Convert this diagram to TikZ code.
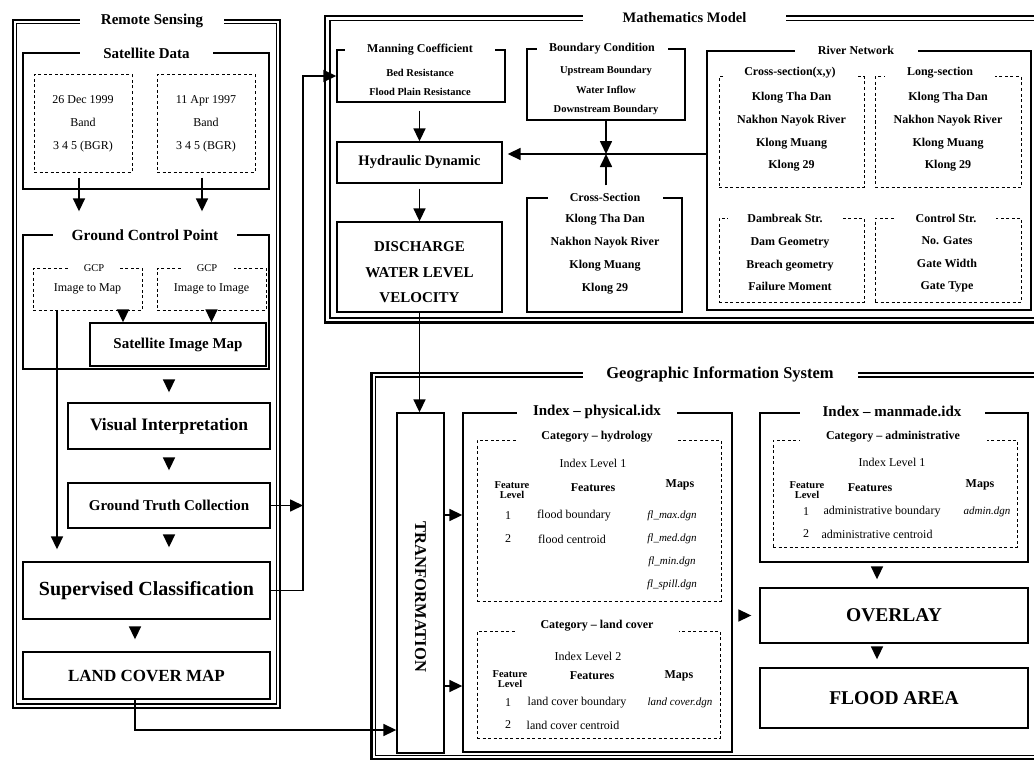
\documentclass[tikz,border=0pt]{standalone}
\usepackage{fontspec}
\setmainfont{Liberation Serif}
\usetikzlibrary{arrows.meta}
\newcommand{\fsz}[2]{\fontsize{#1}{#2}\selectfont}
\newcommand{\rbox}[7][box]{\node[#1,minimum width={(#5-#3)*1pt},minimum height={(#6-#4)*1pt}] (#2) at ({(#3+#5)/2},{(#4+#6)/2}) {#7};}
\tikzset{
 box/.style={draw,line width=1.35pt,inner sep=0pt,align=center,font=\bfseries},
 dbox/.style={draw,line width=1pt,dash pattern=on 3pt off 2.5pt,inner sep=0pt,align=center},
 ttl/.style={fill=white,inner xsep=0pt,inner ysep=1.5pt,align=center},
 txt/.style={inner sep=0pt,align=center},
 arr/.style={line width=1.7pt,-{Triangle[width=12pt,length=13pt]}},
 outerf/.style={line width=2.3pt},
 innerf/.style={line width=1.1pt},
}
\begin{document}
\begin{tikzpicture}[x=1pt,y=-1pt]
\useasboundingbox (0,0) rectangle (1034,760);
\clip (0,0) rectangle (1034,760);
\fill[white] (0,0) rectangle (1034,760);
% ---------------- frames
\draw[outerf] (13,20) rectangle (280,708);
\draw[innerf] (16.5,23.5) rectangle (276.5,704);
\draw[outerf] (325,16) rectangle (1050,322.5);
\draw[innerf] (330,20.5) rectangle (1050,318);
\draw[outerf] (371.5,373) rectangle (1050,759.5);
\draw[innerf] (375.5,377) rectangle (1050,755.5);
\node[ttl,minimum width=144pt,font=\bfseries\fsz{15}{17}] (rsT) at (152,21) {Remote Sensing};
\node[ttl,minimum width=203pt,font=\bfseries\fsz{14.5}{17}] (mmT) at (684.5,18) {Mathematics Model};
\node[ttl,minimum width=275pt,font=\bfseries\fsz{16.5}{18}] (gisT) at (720,375) {Geographic Information System};
% ---------------- Remote sensing
\rbox{sat}{23}{53}{269}{189}{}
\node[ttl,minimum width=133pt,font=\bfseries\fsz{15}{17}] (satT) at (146.5,53) {Satellite Data};
\rbox[dbox,font=\fsz{12}{23}]{d1}{34}{75}{132}{172}{26 Dec 1999\\Band\\3 4 5 (BGR)}
\rbox[dbox,font=\fsz{12}{23}]{d2}{157}{75}{255}{172}{11 Apr 1997\\Band\\3 4 5 (BGR)}
\rbox{gcp}{23}{235}{269}{369}{}
\node[ttl,minimum width=184pt,font=\bfseries\fsz{15.5}{17}] (gcpT) at (145,235) {Ground Control Point};
\rbox[dbox,font=\fsz{12}{14}]{gcpL}{33}{268}{142}{310}{Image to Map}
\rbox[dbox,font=\fsz{12}{14}]{gcpR}{157}{268}{266}{310}{Image to Image}
\node[ttl,minimum width=52pt,font=\fsz{10.5}{12}] (gcpLT) at (94,268) {GCP};
\node[ttl,minimum width=53pt,font=\fsz{10.5}{12}] (gcpRT) at (207,268) {GCP};
\rbox[box,font=\bfseries\fsz{15}{17}]{sim}{90}{323}{266}{366}{Satellite Image Map}
\rbox[box,font=\bfseries\fsz{17.5}{19}]{vi}{68}{403}{270}{449}{Visual Interpretation}
\rbox[box,font=\bfseries\fsz{15}{17}]{gtc}{68}{483}{270}{528}{Ground Truth Collection}
\rbox[box,font=\bfseries\fsz{20}{22}]{sc}{23}{562}{270}{619}{Supervised Classification}
\rbox[box,font=\bfseries\fsz{17}{19}]{lcm}{23}{652}{270}{699}{LAND COVER MAP}
% arrows RS
\draw[arr,shorten <=5pt,shorten >=23pt] ([xshift=-4pt]d1.south) coordinate (a1) -- (a1 |- gcp.north);
\draw[arr,shorten <=5pt,shorten >=23pt] ([xshift=-4pt]d2.south) coordinate (a2) -- (a2 |- gcp.north);
\draw[arr] ([xshift=35.5pt]gcpL.south) coordinate (a3) -- (a3 |- sim.north);
\draw[arr] (gcpR.south) -- (gcpR.south |- sim.north);
\draw[arr,shorten >=12pt] ([xshift=-30.5pt]gcpL.south) coordinate (a4) -- (a4 |- sc.north);
\draw[arr,shorten <=14pt,shorten >=10pt] (vi.north |- sim.south) -- (vi.north);
\draw[arr,shorten <=9pt,shorten >=12pt] (vi.south) -- (vi.south |- gtc.north);
\draw[arr,shorten <=7pt,shorten >=14pt] (gtc.south) -- (gtc.south |- sc.north);
\draw[arr,shorten <=8pt,shorten >=12pt] ([xshift=-11.5pt]sc.south) coordinate (a5) -- (a5 |- lcm.north);
% ---------------- Mathematics model
\rbox{man}{337}{50}{505}{102}{}
\node[ttl,minimum width=150pt,font=\bfseries\fsz{12}{14}] (manT) at (420,50) {Manning Coefficient};
\node[txt,font=\bfseries\fsz{10.5}{19}] (manX) at (420,82.5) {Bed Resistance\\Flood Plain Resistance};
\rbox[box,font=\bfseries\fsz{14.5}{17}]{hd}{337}{142}{502}{183}{Hydraulic Dynamic}
\rbox{dis}{337}{222}{502}{312}{}
\node[txt,font=\bfseries\fsz{15}{25.5}] (disX) at (419.5,272.5) {DISCHARGE\\WATER LEVEL\\VELOCITY};
\rbox{bc}{527}{49}{685}{120}{}
\node[ttl,minimum width=131pt,font=\bfseries\fsz{12}{14}] (bcT) at (602,49) {Boundary Condition};
\node[txt,font=\bfseries\fsz{10.5}{19.5}] (bcX) at (606,90.5) {Upstream Boundary\\Water Inflow\\Downstream Boundary};
\rbox{cs}{527}{198}{682}{312}{}
\node[txt,font=\bfseries\fsz{12}{23}] (csX) at (605,254.5) {Klong Tha Dan\\Nakhon Nayok River\\Klong Muang\\Klong 29};
\rbox{rn}{707}{51}{1031}{310}{}
\node[ttl,minimum width=123pt,font=\bfseries\fsz{12}{14}] (rnT) at (856,50) {River Network};
\rbox[dbox,font=\bfseries\fsz{12}{22.7}]{cxy}{719}{77}{864}{187}{Klong Tha Dan\\Nakhon Nayok River\\Klong Muang\\Klong 29}
\rbox[dbox,font=\bfseries\fsz{12}{22.7}]{lsec}{875}{77}{1021}{187}{Klong Tha Dan\\Nakhon Nayok River\\Klong Muang\\Klong 29}
\rbox[dbox]{dam}{719}{218}{864}{302}{}
\rbox[dbox]{ctl}{875}{218}{1021}{302}{}
\node[txt,font=\bfseries\fsz{12}{22.5}] (damX) at (790,264.5) {Dam Geometry\\Breach geometry\\Failure Moment};
\node[txt,font=\bfseries\fsz{12}{22.5}] (ctlX) at (947,264.5) {No. Gates\\Gate Width\\Gate Type};
% arrows MM
\coordinate (jn) at (607,154);
\draw[arr,shorten <=8pt] (hd.north |- man.south) -- (hd.north);
\draw[arr,shorten <=5pt] (hd.south) -- (hd.south |- dis.north);
\draw[arr] (bc.south) -- (bc.south |- jn);
\draw[arr,shorten <=12pt] (bc.south |- cs.north) -- (bc.south |- jn);
\draw[arr,shorten >=5pt] (rn.west |- jn) -- (hd.east |- jn);
\node[ttl,minimum width=115pt,font=\bfseries\fsz{12}{14}] (csT) at (605,197) {Cross-Section};
\node[ttl,minimum width=130pt,font=\bfseries\fsz{12}{14}] (cxyT) at (790,73) {Cross-section(x,y)};
\node[ttl,minimum width=110pt,font=\bfseries\fsz{12}{14}] (lsecT) at (940,73) {Long-section};
\node[ttl,minimum width=115pt,font=\bfseries\fsz{12}{14}] (damT) at (785,218) {Dambreak Str.};
\node[ttl,minimum width=100pt,font=\bfseries\fsz{12}{14}] (ctlT) at (946,218) {Control Str.};
% ---------------- GIS
\rbox{trans}{397}{413}{444}{753}{}
\node[txt,rotate=-90,font=\bfseries\fsz{16.5}{18}] (transX) at (420.5,597) {TRANFORMATION};
\rbox{phys}{463}{413}{732}{752}{}
\node[ttl,minimum width=160pt,font=\bfseries\fsz{15}{17}] (physT) at (597,412) {Index -- physical.idx};
\rbox[dbox]{hyd}{477}{440}{721}{601}{}
\node[ttl,minimum width=161pt,font=\bfseries\fsz{12}{14}] (hydT) at (597,437) {Category -- hydrology};
\node[txt,font=\fsz{12}{14}] (hyd0) at (593,463) {Index Level 1};
\node[txt,font=\bfseries\fsz{10.5}{10}] (hydh1) at (512,490) {Feature\\Level};
\node[txt,font=\bfseries\fsz{12}{14}] (hydh2) at (593,488) {Features};
\node[txt,font=\bfseries\fsz{12}{14}] (hydh3) at (680,485) {Maps};
\node[txt,font=\fsz{12}{14}] (hyd11) at (508,516) {1};
\node[txt,font=\fsz{12}{14}] (hyd12) at (574,516) {flood boundary};
\node[txt,font=\itshape\fsz{11}{14}] (hyd13) at (672,516) {fl\_max.dgn};
\node[txt,font=\fsz{12}{14}] (hyd21) at (508,539) {2};
\node[txt,font=\fsz{12}{14}] (hyd22) at (572,539) {flood centroid};
\node[txt,font=\itshape\fsz{11}{14}] (hyd23) at (672,539) {fl\_med.dgn};
\node[txt,font=\itshape\fsz{11}{14}] (hyd33) at (672,562) {fl\_min.dgn};
\node[txt,font=\itshape\fsz{11}{14}] (hyd43) at (672,585) {fl\_spill.dgn};
\rbox[dbox]{lc}{477}{631}{720}{738}{}
\node[ttl,minimum width=163pt,font=\bfseries\fsz{12}{14}] (lcT) at (597,626) {Category -- land cover};
\node[txt,font=\fsz{12}{14}] (lc0) at (588,656) {Index Level 2};
\node[txt,font=\bfseries\fsz{10.5}{10}] (lch1) at (510,679) {Feature\\Level};
\node[txt,font=\bfseries\fsz{12}{14}] (lch2) at (592,676) {Features};
\node[txt,font=\bfseries\fsz{12}{14}] (lch3) at (679,676) {Maps};
\node[txt,font=\fsz{12}{14}] (lc11) at (508,703) {1};
\node[txt,font=\fsz{12}{14}] (lc12) at (577,703) {land cover boundary};
\node[txt,font=\itshape\fsz{11}{14}] (lc13) at (680,703) {land cover.dgn};
\node[txt,font=\fsz{12}{14}] (lc21) at (508,725) {2};
\node[txt,font=\fsz{12}{14}] (lc22) at (573,725) {land cover centroid};
\rbox{mm}{760}{413}{1028}{562}{}
\node[ttl,minimum width=185pt,font=\bfseries\fsz{15}{17}] (mmiT) at (892,411) {Index -- manmade.idx};
\rbox[dbox]{adm}{773}{440}{1017}{547}{}
\node[ttl,minimum width=187pt,font=\bfseries\fsz{12}{14}] (admT) at (893,437) {Category -- administrative};
\node[txt,font=\fsz{12}{14}] (adm0) at (892,462) {Index Level 1};
\node[txt,font=\bfseries\fsz{10.5}{10}] (admh1) at (807,490) {Feature\\Level};
\node[txt,font=\bfseries\fsz{12}{14}] (admh2) at (870,488) {Features};
\node[txt,font=\bfseries\fsz{12}{14}] (admh3) at (980,485) {Maps};
\node[txt,font=\fsz{12}{14}] (adm11) at (806,512) {1};
\node[txt,font=\fsz{12}{14}] (adm12) at (882,512) {administrative boundary};
\node[txt,font=\itshape\fsz{11}{14}] (adm13) at (987,512) {admin.dgn};
\node[txt,font=\fsz{12}{14}] (adm21) at (806,534) {2};
\node[txt,font=\fsz{12}{14}] (adm22) at (877,534) {administrative centroid};
\rbox[box,font=\bfseries\fsz{19.5}{21}]{ov}{760}{588}{1028}{643}{OVERLAY}
\rbox[box,font=\bfseries\fsz{19.5}{21}]{fa}{760}{668}{1028}{728}{FLOOD AREA}
% arrows GIS
\draw[arr] ([yshift=68pt]trans.east) coordinate (g1) -- (g1 -| phys.west);
\draw[arr] ([yshift=-103pt]trans.east) coordinate (g2) -- (g2 -| phys.west);
\draw[arr,shorten <=5pt,shorten >=8pt] ([xshift=-17pt]mm.south) coordinate (g3) -- (g3 |- ov.north);
\draw[arr,shorten <=4pt,shorten >=8pt] ([xshift=-17pt]ov.south) coordinate (g4) -- (g4 |- fa.north);
\draw[arr,shorten <=6pt,shorten >=8pt] (phys.east |- ov.west) -- (ov.west);
% ---------------- cross-module connectors
\coordinate (vl) at (303,0);
\coordinate (ylt) at (0,730);
\draw[arr] (gtc.east) -- (gtc.east -| vl);
\draw[arr] (sc.east) -- (sc.east -| vl) |- (man.west);
\draw[arr] ([xshift=-11.5pt]lcm.south) |- (trans.west |- ylt);
\draw[arr] (dis.south) -- (dis.south |- trans.north);
\end{tikzpicture}
\end{document}
